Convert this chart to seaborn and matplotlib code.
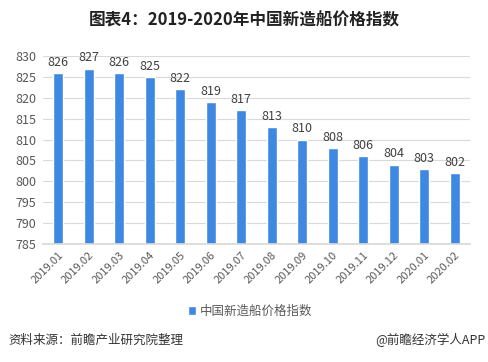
import matplotlib
matplotlib.use("Agg")
import matplotlib.pyplot as plt
import seaborn as sns
import pandas as pd

months = ["2019.01", "2019.02", "2019.03", "2019.04", "2019.05", "2019.06", "2019.07",
          "2019.08", "2019.09", "2019.10", "2019.11", "2019.12", "2020.01", "2020.02"]
values = [826, 827, 826, 825, 822, 819, 817, 813, 810, 808, 806, 804, 803, 802]
series_name = "中国新造船价格指数"
yticks = [785, 790, 795, 800, 805, 810, 815, 820, 825, 830]

sns.set_theme(style="white")
plt.rcParams['font.family'] = ['Noto Sans CJK SC', 'DejaVu Sans']

df = pd.DataFrame({"month": months, "value": values, "series": series_name})

bar_color = "#3F88E2"
text_color = "#595959"

fig = plt.figure(figsize=(4.89, 3.62), dpi=100)
ax = fig.add_axes([43/489, 1 - 244/362, (470-43)/489, (244-56)/362])

sns.barplot(data=df, x="month", y="value", hue="series", palette=[bar_color],
            width=0.33, ax=ax, legend=False, saturation=1)

ax.set_ylim(785, 830)
ax.set_yticks(yticks)
ax.set_xlim(-0.5, len(months) - 0.5)
ax.yaxis.grid(True, color="#D9D9D9", linewidth=0.8)
ax.set_axisbelow(True)
for s in ["top", "right", "left"]:
    ax.spines[s].set_visible(False)
ax.spines["bottom"].set_color("#D9D9D9")
ax.set_xlabel("")
ax.set_ylabel("")
ax.tick_params(axis="y", colors=text_color, labelsize=9, length=0, pad=5)
ax.tick_params(axis="x", colors=text_color, labelsize=8, length=0, pad=4)
plt.setp(ax.get_xticklabels(), rotation=45, ha="right", rotation_mode="anchor")

for i, v in enumerate(values):
    ax.text(i, v + 1.0, str(v), ha="center", va="bottom", fontsize=9, color="#404040")

from matplotlib.patches import Patch
handles = [Patch(facecolor=bar_color, label=series_name)]
fig.legend(handles=handles, loc="center", bbox_to_anchor=(250/489, 1 - 311/362),
           frameon=False, fontsize=9, handlelength=0.7, handleheight=0.7,
           handletextpad=0.3, labelcolor=text_color)

fig.text(0.5, 1 - 20/362, "图表4：2019-2020年中国新造船价格指数", ha="center", va="center",
         fontsize=12, fontweight="bold", color="#222222")
fig.text(8/489, 1 - 340/362, "资料来源：前瞻产业研究院整理", ha="left", va="center",
         fontsize=9, color="#333333")
fig.text(486/489, 1 - 340/362, "@前瞻经济学人APP", ha="right", va="center",
         fontsize=9, color="#333333")

fig.savefig("out.png", dpi=100)
